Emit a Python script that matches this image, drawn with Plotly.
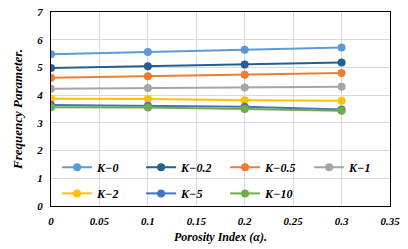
import plotly.graph_objects as go

porosity = [0, 0.1, 0.2, 0.3]
series_names = ["K\u22120", "K\u22120.2", "K\u22120.5", "K\u22121", "K\u22122", "K\u22125", "K\u221210"]
k0 = [5.48, 5.56, 5.64, 5.72]
k02 = [4.98, 5.04, 5.11, 5.18]
k05 = [4.63, 4.68, 4.74, 4.80]
k1 = [4.23, 4.26, 4.28, 4.30]
k2 = [3.87, 3.86, 3.82, 3.80]
k5 = [3.64, 3.62, 3.58, 3.48]
k10 = [3.56, 3.55, 3.50, 3.44]
values = [k0, k02, k05, k1, k2, k5, k10]
colors = ["#5B9BD5", "#255E91", "#ED7D31", "#A5A5A5", "#FFC000", "#4472C4", "#70AD47"]

FONT = "Liberation Serif"
fig = go.Figure()
for i, (name, vals, col) in enumerate(zip(series_names, values, colors)):
    fig.add_trace(go.Scatter(
        x=porosity, y=vals, name=name, mode="lines+markers",
        line=dict(color=col, width=2),
        marker=dict(color=col, size=8, symbol="circle"),
        legend="legend" if i < 4 else "legend2",
    ))

tickfont = dict(family=FONT, size=11, color="black", weight="bold", style="italic")
legfont = dict(family=FONT, size=12, color="black", weight="bold", style="italic")

fig.update_layout(
    width=408, height=249,
    margin=dict(l=51, r=18, t=12, b=43),
    paper_bgcolor="white", plot_bgcolor="white",
    xaxis=dict(range=[0, 0.35], dtick=0.05, tick0=0, showgrid=True, gridcolor="#d9d9d9",
               showline=True, mirror=True, linecolor="black", linewidth=1,
               zeroline=False, tickfont=tickfont, ticks="", automargin=False,
               ticklabelstandoff=5,
               title=dict(text="Porosity Index (\u03b1).", font=dict(family=FONT, size=12, color="black", weight="bold", style="italic"), standoff=6)),
    yaxis=dict(range=[0, 7], dtick=1, showgrid=True, gridcolor="#d9d9d9",
               showline=True, mirror=True, linecolor="black", linewidth=1,
               zeroline=False, tickfont=tickfont, ticks="", automargin=False,
               ticklabelstandoff=5,
               title=dict(text="Frequency Parameter.", font=dict(family=FONT, size=13, color="black", weight="bold", style="italic"), standoff=10)),
    legend=dict(orientation="h", x=0.018, y=0.20, xanchor="left", yanchor="middle",
                entrywidth=39, entrywidthmode="pixels", font=legfont,
                bgcolor="rgba(0,0,0,0)"),
    legend2=dict(orientation="h", x=0.018, y=0.065, xanchor="left", yanchor="middle",
                 entrywidth=39, entrywidthmode="pixels", font=legfont,
                 bgcolor="rgba(0,0,0,0)"),
    showlegend=True,
)
fig.write_html("out.html", config={"displayModeBar": False},
               post_script="document.body.style.margin='0';document.body.style.overflow='hidden';")
